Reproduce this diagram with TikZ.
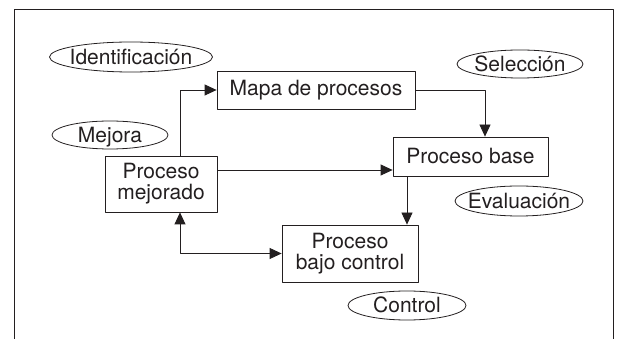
\documentclass[tikz,border=0pt]{standalone}
\usepackage{fontspec}
\setmainfont{TeX Gyre Heros}
\usetikzlibrary{arrows.meta}
\definecolor{ink}{RGB}{35,31,32}

\begin{document}
\begin{tikzpicture}[x=1pt, y=-1pt, font=\fontsize{21}{21}\selectfont, line join=round, line width=0.8pt, color=ink,
	>={Triangle[length=12pt,width=11pt]},
	caja/.style={draw, rectangle, align=center, inner sep=0pt},
	fase/.style={inner sep=0pt, text height=15pt, text depth=0pt}]
	\useasboundingbox (0,0) rectangle (622,339);
	\draw (14,339)--(14,9.5)--(613,9.5)--(613,339);

	\node[caja, minimum width=198pt, minimum height=38pt] (mapa) at (316,90) {Mapa de procesos};
	\node[caja, minimum width=112pt, minimum height=56pt] (mejorado) at (161,184) {Proceso\\mejorado};
	\node[caja, minimum width=155pt, minimum height=39pt] (base) at (470.5,156.5) {Proceso base};
	\node[caja, minimum width=136pt, minimum height=57pt] (bajo) at (350,253.5) {Proceso\\bajo control};

	\node[fase] (ident) at (131,57) {Identificaci\'on};
	\draw (ident.center) ellipse [x radius=81.5, y radius=15];
	\node[fase] (selec) at (520,64) {Selecci\'on};
	\draw (selec.center) ellipse [x radius=63, y radius=14];
	\node[fase] (mejora) at (110,135) {Mejora};
	\draw (mejora.center) ellipse [x radius=58, y radius=14];
	\node[fase] (evalua) at (519,201) {Evaluaci\'on};
	\draw (evalua.center) ellipse [x radius=64, y radius=15];
	\node[fase] (ctrl) at (407,305.5) {Control};
	\draw (ctrl.center) ellipse [x radius=59, y radius=14.5];

	\coordinate (m0) at ([xshift=19pt]mejorado.north);
	\coordinate (m1) at ([yshift=14pt]mejorado.east);
	\coordinate (m2) at ([xshift=19pt]mejorado.south);
	\coordinate (b0) at ([xshift=14.5pt]base.north);
	\coordinate (b1) at ([xshift=-63.5pt]base.south);
	\draw[->] (m0) |- (mapa.west);
	\draw[->] (mapa.east) -| (b0);
	\draw[->] (m1) -- (m1 -| base.west);
	\draw[->] (b1) -- (b1 |- bajo.north);
	\draw[<->] (m2) |- (bajo.west);
\end{tikzpicture}
\end{document}
